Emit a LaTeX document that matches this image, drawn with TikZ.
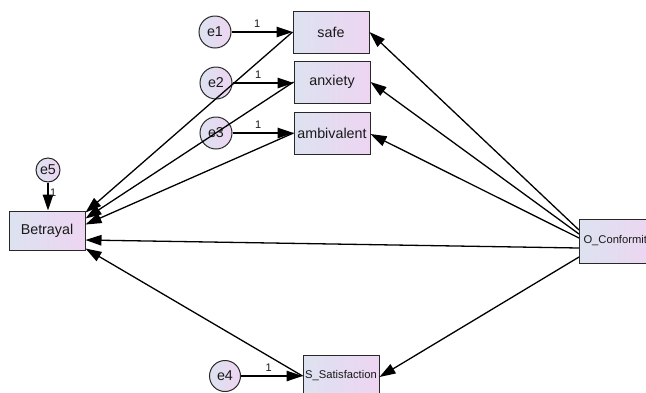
\documentclass[tikz,border=0pt]{standalone}
\usepackage{fontspec}
\setmainfont{Liberation Sans}
\usetikzlibrary{arrows.meta,calc}
\definecolor{boxL}{RGB}{221,226,240}
\definecolor{boxR}{RGB}{237,213,242}
\definecolor{edgeC}{RGB}{40,40,40}
\tikzset{
  obs/.style={rectangle, draw=edgeC, line width=1pt, left color=boxL, right color=boxR,
    minimum width=76pt, minimum height=42pt, inner sep=0pt, text=black!90,
    font=\fontsize{14.3}{16}\selectfont},
  obssmall/.style={obs, font=\fontsize{11.2}{13}\selectfont},
  err/.style={circle, draw=edgeC, line width=1pt, left color=boxL, right color=boxR,
    minimum size=32pt, inner sep=0pt, text=black!90, font=\fontsize{14.3}{16}\selectfont},
  regpath/.style={-{Triangle[length=16pt,width=10.5pt]}, line width=1.3pt, black},
  one/.style={font=\fontsize{11}{12}\selectfont, inner sep=0pt, text=black!90}
}
\begin{document}
\begin{tikzpicture}[x=1pt,y=-1pt]
\useasboundingbox (0,0) rectangle (646,392);
\clip (0,0) rectangle (646,392);
\fill[white] (0,0) rectangle (646,392);
% observed variables
\node[obs] (safe) at (331,32) {safe};
\node[obs] (anx) at (332,82) {anxiety};
\node[obs] (amb) at (332,133) {ambivalent};
\node[obs, minimum height=39pt] (bet) at (47,230.5) {Betrayal};
\node[obssmall, minimum height=44pt, anchor=west, text width=68pt, inner xsep=4pt, align=left] (oc) at (579,241) {O\_Conformit};
\node[obssmall] (ss) at (341,376) {S\_Satisfaction};
% error terms
\node[err] (e1) at (215,32) {e1};
\node[err] (e2) at (216,83) {e2};
\node[err] (e3) at (216,133) {e3};
\node[err, minimum size=24pt] (e5) at (48,170) {e5};
\node[err, minimum size=31pt] (e4) at (225,376) {e4};
% error paths
\draw[regpath] (e1) -- (safe.west) node[one, pos=0.42, above=4pt] {1};
\draw[regpath] (e2) -- (anx.west |- e2) node[one, pos=0.42, above=4pt] {1};
\draw[regpath] (e3) -- (amb.west |- e3) node[one, pos=0.42, above=4pt] {1};
\draw[regpath] (e5) -- (bet.north -| e5) node[one, pos=0.38, right=1.5pt] {1};
\draw[regpath] (e4) -- (ss.west) node[one, pos=0.45, above=4pt] {1};
% structural paths to Betrayal
\draw[regpath] (safe.west) -- ([yshift=-2pt]bet.north east);
\draw[regpath] (anx.west) -- ([yshift=-8pt]bet.north east);
\draw[regpath] (amb.west) -- ([yshift=-14pt]bet.north east);
\draw[regpath] ([yshift=-7pt]oc.west) -- ([yshift=-9.5pt]bet.east);
\draw[regpath] (ss.west) -- ([yshift=2pt]bet.south east);
% paths from O_Conformit
\draw[regpath] ([yshift=11pt]oc.west) -- (safe.east);
\draw[regpath] ([yshift=7pt]oc.west) -- (anx.east);
\draw[regpath] ([yshift=3pt]oc.west) -- ([yshift=-1pt]amb.east);
\draw[regpath] ([yshift=-16pt]oc.west) -- ([yshift=-1pt]ss.east);
\end{tikzpicture}
\end{document}
